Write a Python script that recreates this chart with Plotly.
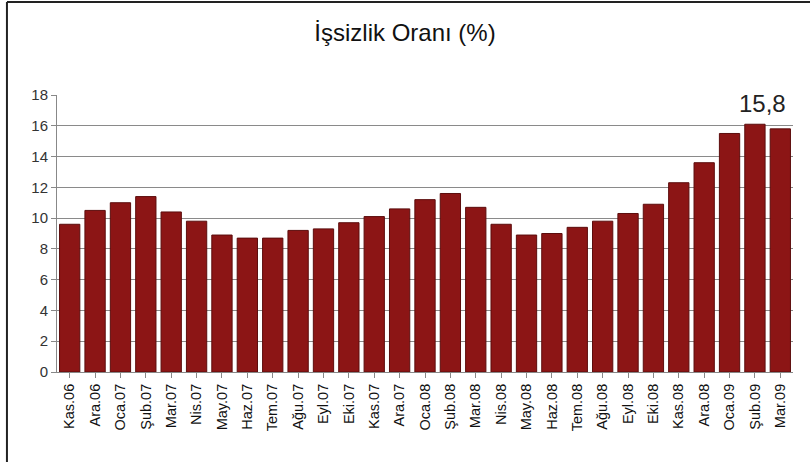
import plotly.graph_objects as go

months = ["Kas.06", "Ara.06", "Oca.07", "Şub.07", "Mar.07", "Nis.07", "May.07",
          "Haz.07", "Tem.07", "Ağu.07", "Eyl.07", "Eki.07", "Kas.07", "Ara.07",
          "Oca.08", "Şub.08", "Mar.08", "Nis.08", "May.08", "Haz.08", "Tem.08",
          "Ağu.08", "Eyl.08", "Eki.08", "Kas.08", "Ara.08", "Oca.09", "Şub.09",
          "Mar.09"]
rate = [9.6, 10.5, 11.0, 11.4, 10.4, 9.8, 8.9,
        8.7, 8.7, 9.2, 9.3, 9.7, 10.1, 10.6,
        11.2, 11.6, 10.7, 9.6, 8.9, 9.0, 9.4,
        9.8, 10.3, 10.9, 12.3, 13.6, 15.5, 16.1,
        15.8]
y_ticks = list(range(0, 19, 2))

font = "Liberation Sans, Arial, sans-serif"

fig = go.Figure(go.Bar(
    x=months,
    y=rate,
    marker=dict(color="#8c1515", line=dict(color="#5c0d0d", width=1)),
    hoverinfo="x+y",
))

fig.add_annotation(
    x=months[-1], y=rate[-1], text="15,8",
    showarrow=False, yanchor="bottom", xshift=-18, yshift=10,
    font=dict(family=font, size=24, color="#222"),
)

# chart frame (top and left edges visible in the original)
fig.add_shape(type="line", xref="paper", yref="paper",
              x0=-0.068, x1=1.05, y0=1.336, y1=1.336,
              line=dict(color="#222", width=2))
fig.add_shape(type="line", xref="paper", yref="paper",
              x0=-0.068, x1=-0.068, y0=1.336, y1=-0.35,
              line=dict(color="#222", width=2))

fig.update_layout(
    width=810, height=462,
    margin=dict(l=57, r=17, t=95, b=90),
    paper_bgcolor="white", plot_bgcolor="white",
    title=dict(text="İşsizlik Oranı (%)", x=0.5, xanchor="center",
               y=0.93, yanchor="middle",
               font=dict(family=font, size=24, color="#111")),
    bargap=0.2,
    showlegend=False,
    font=dict(family=font),
)
fig.update_xaxes(
    tickangle=-90, tickfont=dict(family=font, size=14.5, color="#111"),
    ticks="outside", ticklen=5, tickcolor="#888",
    showline=True, linecolor="#888", linewidth=1,
    showgrid=False,
)
fig.update_yaxes(
    range=[0, 18], tickvals=y_ticks,
    tickfont=dict(family=font, size=15, color="#333"),
    ticks="outside", ticklen=5, tickcolor="#888",
    showline=True, linecolor="#888", linewidth=1,
    showgrid=True, gridcolor="#8a8a8a", gridwidth=1,
    zeroline=False,
)

# the page body has a default 8px margin; drop it so the chart fills the window
fig.write_html("out.html", config={"displayModeBar": False},
               post_script="document.body.style.margin='0';")
